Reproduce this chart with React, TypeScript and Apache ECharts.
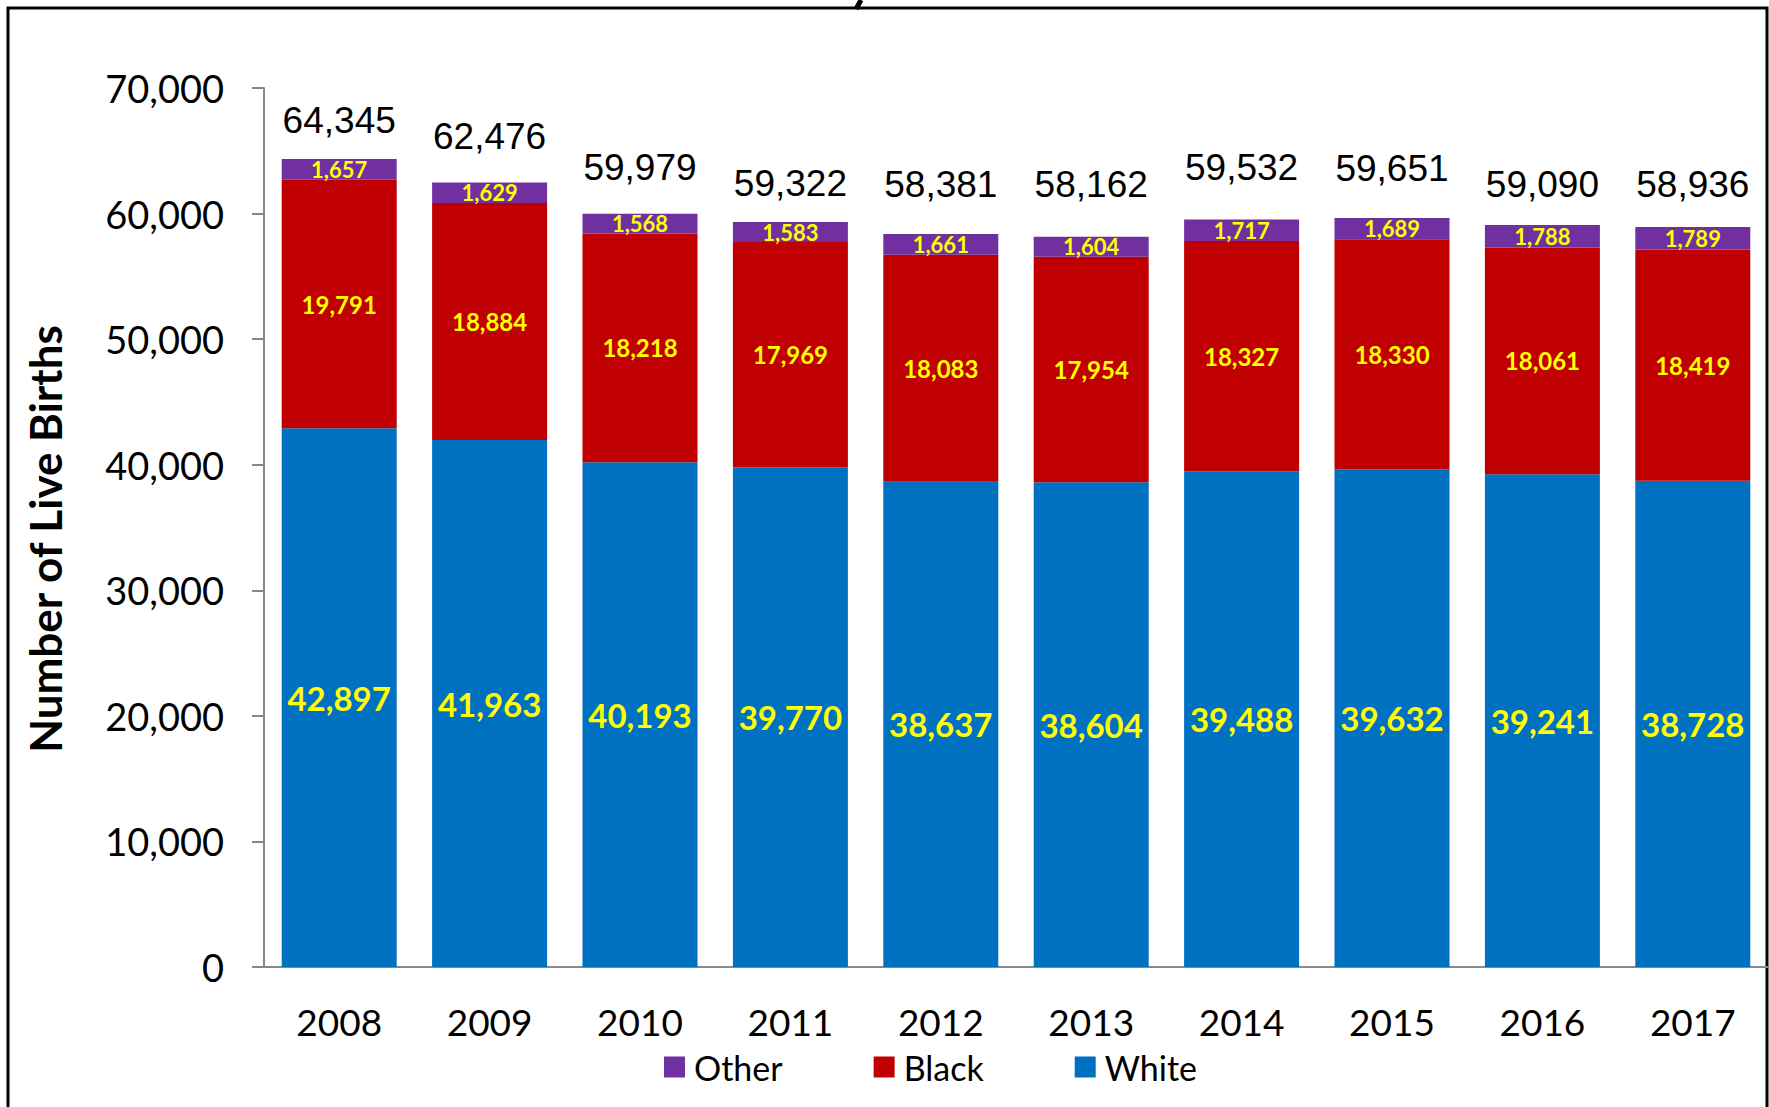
import React, { useEffect, useRef } from "react";
import * as echarts from "echarts";

const years = ["2008", "2009", "2010", "2011", "2012", "2013", "2014", "2015", "2016", "2017"];
const whiteBirths = [42897, 41963, 40193, 39770, 38637, 38604, 39488, 39632, 39241, 38728];
const blackBirths = [19791, 18884, 18218, 17969, 18083, 17954, 18327, 18330, 18061, 18419];
const otherBirths = [1657, 1629, 1568, 1583, 1661, 1604, 1717, 1689, 1788, 1789];
const totalBirths = [64345, 62476, 59979, 59322, 58381, 58162, 59532, 59651, 59090, 58936];
const legendOrder = ["Other", "Black", "White"];

// label placement (style only): gap between bar top and total label
const totalLabelGap = [20, 27, 28, 20, 31, 34, 33, 31, 22, 24];

const fmt = (v: number) => Number(v).toLocaleString("en-US");

export default function App() {
  const ref = useRef<HTMLDivElement>(null);
  useEffect(() => {
    document.body.style.margin = "0";
    const chart = echarts.init(ref.current!, null, { renderer: "svg" });
    const segLabel = (size: number) => ({
      show: true,
      position: "inside",
      color: "#FFFF00",
      fontFamily: "Lato",
      fontWeight: "bold",
      fontSize: size,
      formatter: (p: any) => fmt(p.value),
    });
    chart.setOption({
      animation: false,
      backgroundColor: "#ffffff",
      grid: { left: 264, right: 1, top: 88, bottom: 140, containLabel: false },
      legend: {
        data: legendOrder,
        left: 664,
        top: 1050,
        padding: 0,
        itemWidth: 21,
        itemHeight: 21,
        itemGap: 91,
        icon: "rect",
        textStyle: { fontFamily: "Lato", fontSize: 34, color: "#000", padding: [0, 0, 0, 4] },
      },
      xAxis: {
        type: "category",
        data: years,
        axisLine: { lineStyle: { color: "#888888", width: 2 } },
        axisTick: { show: false },
        axisLabel: { fontFamily: "Lato", fontSize: 37, color: "#000", margin: 36 },
      },
      yAxis: {
        type: "value",
        min: 0,
        max: 70000,
        interval: 10000,
        axisLine: { show: true, lineStyle: { color: "#888888", width: 2 } },
        axisTick: { show: true, inside: false, length: 12, lineStyle: { color: "#888888", width: 2 } },
        splitLine: { show: false },
        axisLabel: { fontFamily: "Lato", fontSize: 38, color: "#000", margin: 40, formatter: fmt },
      },
      series: [
        {
          name: "White",
          type: "bar",
          stack: "births",
          barWidth: 115,
          data: whiteBirths,
          itemStyle: { color: "#0070C0" },
          label: segLabel(33),
        },
        {
          name: "Black",
          type: "bar",
          stack: "births",
          barWidth: 115,
          data: blackBirths,
          itemStyle: { color: "#C00000" },
          label: segLabel(24),
        },
        {
          name: "Other",
          type: "bar",
          stack: "births",
          barWidth: 115,
          data: otherBirths,
          itemStyle: { color: "#7030A0" },
          label: segLabel(22),
        },
        {
          name: "Total",
          type: "bar",
          barWidth: 115,
          barGap: "-100%",
          silent: true,
          data: totalBirths.map((v, i) => ({ value: v, label: { distance: totalLabelGap[i] } })),
          itemStyle: { color: "rgba(0,0,0,0)" },
          label: {
            show: true,
            position: "top",
            color: "#000",
            fontFamily: "Liberation Sans",
            fontSize: 37,
            formatter: (p: any) => fmt(p.value),
          },
        },
      ],
      graphic: [
        {
          type: "rect",
          shape: { x: 8, y: 8, width: 1759, height: 1200 },
          style: { fill: "none", stroke: "#000", lineWidth: 3 },
          silent: true,
        },
        {
          type: "line",
          shape: { x1: 861, y1: 0, x2: 856, y2: 9 },
          style: { stroke: "#000", lineWidth: 5 },
          silent: true,
        },
        {
          type: "text",
          x: 45,
          y: 539,
          rotation: Math.PI / 2,
          style: {
            text: "Number of Live Births",
            fontFamily: "Lato",
            fontWeight: "bold",
            fontSize: 44,
            fill: "#000",
            textAlign: "center",
            textVerticalAlign: "middle",
          },
        },
      ],
    });
    return () => chart.dispose();
  }, []);
  return <div ref={ref} style={{ width: 1769, height: 1107 }} />;
}
